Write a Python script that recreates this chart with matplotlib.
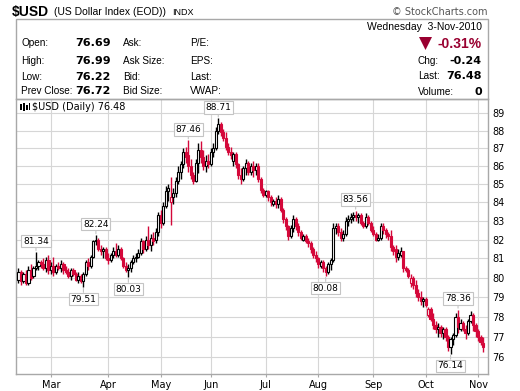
import matplotlib
matplotlib.use("Agg")
import matplotlib.pyplot as plt
from matplotlib.patches import Rectangle, Polygon
from matplotlib.ticker import NullLocator
import numpy as np
import pandas as pd

# daily OHLC for $USD, 9-Feb-2010 .. 3-Nov-2010
opens = [79.9, 80.3, 79.8, 80.2, 79.7, 80.4, 80.1, 80.5, 80.6, 80.8,
         80.7, 80.5, 80.9, 80.4, 80.6, 80.3, 80.6, 80.5, 80.7, 80.4,
         80.3, 80.1, 80.4, 80.2, 79.9, 80.1, 79.8, 80.2, 80.8, 80.6,
         81.1, 81.9, 82.0, 81.5, 81.4, 81.5, 81.0, 80.9, 81.2, 81.4,
         81.2, 81.5, 81.0, 80.6, 80.4, 80.5, 80.8, 81.0, 81.1, 81.3,
         81.9, 81.5, 82.0, 81.7, 82.1, 82.0, 82.4, 83.3, 82.9, 83.8,
         84.6, 84.0, 84.3, 84.5, 85.2, 85.7, 86.1, 86.8, 86.6, 86.0,
         85.5, 85.2, 86.2, 86.9, 86.5, 86.0, 86.3, 86.1, 86.8, 87.0,
         88.0, 88.4, 87.9, 87.6, 87.1, 86.8, 86.3, 86.7, 86.1, 85.5,
         85.3, 85.9, 86.2, 85.7, 86.0, 85.8, 86.0, 85.3, 84.7, 84.4,
         84.6, 84.3, 83.9, 84.1, 83.9, 84.2, 83.6, 83.1, 82.7, 82.2,
         82.6, 83.1, 82.7, 82.4, 82.0, 82.2, 81.9, 81.8, 81.5, 81.2,
         81.0, 80.6, 80.8, 80.5, 80.3, 80.7, 80.9, 82.6, 82.7, 82.4,
         82.1, 82.3, 83.0, 83.1, 83.2, 83.3, 83.2, 83.3, 82.9, 82.7,
         83.2, 82.9, 82.5, 82.3, 82.0, 82.1, 82.7, 82.5, 82.3, 82.2,
         81.6, 81.5, 81.1, 81.2, 81.4, 80.5, 80.4, 79.7, 80.0, 79.6,
         79.2, 79.0, 78.8, 78.9, 78.1, 78.4, 77.9, 77.6, 77.4, 77.5,
         77.2, 77.4, 77.0, 76.5, 76.9, 77.1, 78.0, 77.4, 77.7, 77.4,
         77.2, 77.8, 78.1, 77.6, 77.3, 77.0, 76.69]
highs = [80.5, 80.4, 80.3, 80.4, 80.6, 80.7, 80.6, 81.34, 80.9, 80.9,
         81.0, 81.1, 81.2, 80.8, 81.1, 80.7, 80.8, 80.9, 80.8, 80.6,
         80.5, 80.5, 80.5, 80.3, 80.3, 80.2, 80.3, 80.9, 81.0, 81.2,
         82.0, 82.24, 82.1, 81.7, 81.6, 81.6, 81.3, 81.3, 81.6, 81.8,
         81.7, 81.6, 81.1, 80.8, 80.7, 80.9, 81.2, 81.3, 81.5, 82.1,
         82.0, 82.2, 82.7, 82.3, 82.4, 82.6, 83.5, 83.6, 84.0, 84.9,
         85.0, 85.4, 84.8, 85.4, 86.0, 86.3, 87.0, 87.1, 87.46, 86.4,
         85.7, 86.4, 87.3, 87.4, 86.9, 86.6, 86.7, 87.0, 87.3, 88.2,
         88.71, 88.5, 88.1, 87.9, 87.3, 87.1, 86.8, 86.8, 86.2, 85.9,
         86.0, 86.4, 86.3, 86.2, 86.3, 86.2, 86.2, 85.4, 84.8, 84.7,
         84.7, 84.4, 84.2, 84.3, 84.4, 84.3, 83.7, 83.2, 82.8, 82.8,
         83.3, 83.2, 82.9, 82.5, 82.3, 82.3, 82.1, 81.9, 81.6, 81.4,
         81.1, 80.9, 80.9, 80.6, 80.8, 81.0, 82.9, 82.9, 82.9, 82.6,
         82.5, 83.2, 83.3, 83.4, 83.5, 83.56, 83.4, 83.4, 83.0, 83.4,
         83.3, 83.0, 82.7, 82.4, 82.3, 82.9, 82.9, 82.6, 82.4, 82.5,
         81.7, 81.7, 81.5, 81.6, 81.4, 80.6, 80.5, 80.2, 80.1, 79.9,
         79.4, 79.3, 79.0, 79.0, 78.5, 78.5, 78.2, 77.8, 77.7, 77.6,
         77.5, 77.5, 77.1, 77.0, 77.2, 78.2, 78.36, 77.9, 77.8, 77.6,
         77.9, 78.3, 78.2, 77.7, 77.4, 77.1, 76.99]
lows = [79.7, 79.6, 79.7, 79.6, 79.6, 79.9, 80.0, 80.4, 80.4, 80.5,
        80.4, 80.3, 80.2, 80.2, 80.1, 80.2, 80.4, 80.3, 80.2, 80.2,
        80.0, 79.9, 80.1, 79.8, 79.7, 79.7, 79.51, 80.1, 80.4, 80.5,
        81.0, 81.7, 81.4, 81.2, 81.0, 80.9, 80.7, 80.8, 81.0, 81.1,
        81.1, 80.9, 80.5, 80.3, 80.03, 80.3, 80.7, 80.8, 81.0, 81.2,
        81.3, 81.4, 81.5, 81.4, 81.7, 81.8, 82.2, 82.6, 82.8, 83.7,
        84.1, 82.8, 83.9, 84.3, 85.0, 85.3, 85.9, 86.2, 85.7, 85.3,
        85.0, 85.1, 85.6, 86.2, 85.8, 85.7, 85.9, 86.0, 86.5, 86.9,
        87.8, 87.7, 87.4, 86.9, 86.6, 86.4, 86.0, 85.9, 85.3, 85.0,
        85.2, 85.5, 85.5, 85.5, 85.4, 85.5, 85.1, 84.5, 84.3, 84.3,
        84.1, 83.8, 83.8, 83.7, 83.7, 83.5, 82.9, 82.5, 82.0, 82.1,
        82.4, 82.5, 82.2, 82.0, 81.9, 81.8, 81.6, 81.3, 81.0, 80.8,
        80.5, 80.5, 80.3, 80.08, 80.2, 80.4, 80.8, 82.3, 82.2, 81.9,
        81.9, 82.2, 82.7, 82.9, 83.0, 83.0, 82.9, 82.8, 82.6, 82.6,
        82.8, 82.4, 82.2, 81.9, 81.9, 82.0, 82.3, 82.1, 82.0, 81.4,
        81.2, 80.8, 80.9, 81.1, 80.3, 80.3, 80.0, 79.5, 79.4, 79.0,
        78.8, 78.6, 78.5, 78.5, 78.0, 77.8, 77.4, 77.2, 77.0, 77.0,
        76.9, 76.8, 76.3, 76.14, 76.6, 77.0, 77.2, 77.3, 77.3, 76.9,
        77.1, 77.7, 77.3, 77.0, 76.8, 76.6, 76.22]
closes = [80.3, 79.8, 80.2, 79.7, 80.4, 80.0, 80.5, 80.6, 80.8, 80.7,
          80.5, 80.9, 80.4, 80.6, 80.3, 80.6, 80.5, 80.7, 80.4, 80.3,
          80.1, 80.4, 80.2, 79.9, 80.1, 79.8, 80.2, 80.8, 80.6, 81.1,
          81.9, 82.0, 81.5, 81.4, 81.5, 81.0, 80.9, 81.2, 81.4, 81.2,
          81.5, 81.0, 80.6, 80.4, 80.5, 80.8, 81.0, 81.1, 81.3, 81.9,
          81.5, 82.0, 81.7, 82.1, 81.9, 82.4, 83.3, 82.9, 83.8, 84.6,
          84.8, 84.3, 84.5, 85.2, 85.7, 86.1, 86.8, 86.5, 86.0, 85.5,
          85.2, 86.2, 86.9, 86.5, 86.0, 86.3, 86.1, 86.8, 87.0, 88.0,
          88.4, 87.9, 87.6, 87.1, 86.8, 86.6, 86.7, 86.1, 85.5, 85.3,
          85.9, 86.2, 85.7, 86.0, 85.8, 86.0, 85.3, 84.7, 84.4, 84.6,
          84.3, 84.0, 84.1, 83.9, 84.2, 83.6, 83.1, 82.7, 82.2, 82.6,
          83.1, 82.7, 82.4, 82.1, 82.2, 81.9, 81.8, 81.5, 81.2, 81.0,
          80.7, 80.8, 80.5, 80.3, 80.7, 80.9, 82.6, 82.7, 82.4, 82.1,
          82.3, 83.0, 83.1, 83.2, 83.3, 83.2, 83.3, 82.9, 82.7, 83.2,
          82.9, 82.5, 82.3, 82.0, 82.1, 82.7, 82.5, 82.3, 82.2, 81.6,
          81.4, 81.1, 81.3, 81.4, 80.5, 80.4, 80.1, 80.0, 79.6, 79.2,
          79.0, 78.8, 78.9, 78.6, 78.4, 77.9, 77.6, 77.4, 77.5, 77.2,
          77.4, 77.0, 76.5, 76.9, 77.1, 78.0, 77.5, 77.7, 77.4, 77.2,
          77.8, 78.1, 77.6, 77.3, 77.0, 76.72, 76.48]

holidays = ["2010-02-15", "2010-04-02", "2010-05-31", "2010-07-05", "2010-09-06"]
month_names = ["Mar", "Apr", "May", "Jun", "Jul", "Aug", "Sep", "Oct", "Nov"]
y_ticks = list(range(76, 90))

# bars that carry a value label
high_marks = [7, 31, 68, 80, 135, 176]
low_marks = [26, 44, 123, 173]

RED = "#d4083a"
DARKRED = "#990030"
GRID = "#d6d6d6"
FRAME = "#a8a8a8"

W, H = 520, 391


def fx(x):
    return x / W


def fy(y):
    return 1 - y / H


dates = pd.bdate_range("2010-02-09", "2010-11-03")
dates = dates[~dates.isin(pd.to_datetime(holidays))]
months = np.asarray(dates.month)

o = np.array(opens)
h = np.array(highs)
l = np.array(lows)
c = np.array(closes)
x = np.arange(len(c))

prev = np.r_[c[0], c[:-1]]
cols = np.where(c >= prev, "black", RED)
faces = np.where(c > o, "white", cols)

fig = plt.figure(figsize=(W / 100, H / 100), dpi=100)
ax = fig.add_axes([fx(16), fy(374), fx(488) - fx(16), fy(99) - fy(374)])

ax.vlines(x, l, h, colors=cols, lw=1.0, zorder=2)
body = np.maximum(np.abs(c - o), 0.03)
ax.bar(x, body, bottom=np.minimum(o, c), width=0.85, color=faces,
       edgecolor=cols, linewidth=0.8, zorder=3)

ax.set_yscale("log")
ax.set_ylim(75.15, 89.83)
ax.set_xlim(-1, 188)
ax.yaxis.set_minor_locator(NullLocator())
ax.set_yticks(y_ticks)
ax.set_yticklabels([str(v) for v in y_ticks])
ax.yaxis.tick_right()
ax.tick_params(axis="y", length=0, pad=3, labelsize=7)

month_pos = [int(np.argmax(months == m)) for m in range(3, 12)]
ax.set_xticks(month_pos)
ax.set_xticklabels(month_names)
ax.tick_params(axis="x", length=2, pad=2, labelsize=7, color=FRAME)

ax.grid(True, color=GRID, lw=0.8)
ax.set_axisbelow(True)
for s in ax.spines.values():
    s.set_color(FRAME)
    s.set_linewidth(1)

lbl_box = dict(boxstyle="square,pad=0.2", fc="white", ec="#c4c4c4", lw=0.8)
arrow = dict(arrowstyle="-", color="#c4c4c4", lw=0.8, shrinkA=0, shrinkB=1)
for i in high_marks:
    ax.annotate(f"{highs[i]:.2f}", xy=(i, highs[i]), xytext=(0, 11),
                textcoords="offset pixels", ha="center", va="center",
                fontsize=6.5, bbox=lbl_box, arrowprops=arrow, zorder=5)
for i in low_marks:
    ax.annotate(f"{lows[i]:.2f}", xy=(i, lows[i]), xytext=(0, -12),
                textcoords="offset pixels", ha="center", va="center",
                fontsize=6.5, bbox=lbl_box, arrowprops=arrow, zorder=5)

# legend line in the chart panel
fig.text(fx(32), fy(107), r"\$USD (Daily) 76.48", fontsize=7, va="center")
for bx, by, bh in [(20, 104, 6), (23, 103, 8), (26, 105, 5), (28.5, 103, 7)]:
    fig.add_artist(Rectangle((fx(bx), fy(by + bh)), 1.6 / W, bh / H,
                             transform=fig.transFigure, color="black", lw=0))

# header panel
fig.add_artist(Rectangle((fx(16), fy(99)), fx(488) - fx(16), fy(19) - fy(99),
                         transform=fig.transFigure, fill=False, ec=FRAME, lw=1))

fig.text(fx(12), fy(12), r"\$USD", fontsize=10, fontweight="bold",
         family="Liberation Sans", va="center")
fig.text(fx(54), fy(12), "(US Dollar Index (EOD))", fontsize=7.5,
         family="Liberation Sans", va="center")
fig.text(fx(172), fy(12.5), "INDX", fontsize=6.5, family="Liberation Sans",
         va="center")
fig.text(fx(488), fy(12), "© StockCharts.com", fontsize=7, color="#555555",
         ha="right", va="center")

rows_y = [43, 61, 77, 91]
left_lbl = ["Open:", "High:", "Low:", "Prev Close:"]
left_val = ["76.69", "76.99", "76.22", "76.72"]
mid_lbl = ["Ask:", "Ask Size:", "Bid:", "Bid Size:"]
far_lbl = ["P/E:", "EPS:", "Last:", "VWAP:"]
for ry, a, v, b, d in zip(rows_y, left_lbl, left_val, mid_lbl, far_lbl):
    fig.text(fx(21), fy(ry), a, fontsize=7.2, family="Liberation Sans", va="center")
    fig.text(fx(111), fy(ry), v, fontsize=8, fontweight="bold", ha="right",
             va="center")
    fig.text(fx(123), fy(ry), b, fontsize=7.2, family="Liberation Sans", va="center")
    fig.text(fx(190), fy(ry), d, fontsize=7.2, family="Liberation Sans", va="center")

fig.text(fx(482), fy(27), "Wednesday  3-Nov-2010", fontsize=7.5,
         family="Liberation Sans", ha="right", va="center")
fig.add_artist(Polygon([(fx(419), fy(37)), (fx(432), fy(37)), (fx(425.5), fy(50))],
                       closed=True, transform=fig.transFigure, color=DARKRED, lw=0))
fig.text(fx(482), fy(43.5), "-0.31%", fontsize=10, fontweight="bold",
         family="Liberation Sans", color=DARKRED, ha="right", va="center")
right_lbl = ["Chg:", "Last:", "Volume:"]
right_val = ["-0.24", "76.48", "0"]
for ry, a, v in zip([61, 76, 92], right_lbl, right_val):
    fig.text(fx(418), fy(ry), a, fontsize=7.2, family="Liberation Sans", va="center")
    fig.text(fx(482), fy(ry), v, fontsize=8, fontweight="bold", ha="right",
             va="center")

fig.savefig("out.png", dpi=100)
